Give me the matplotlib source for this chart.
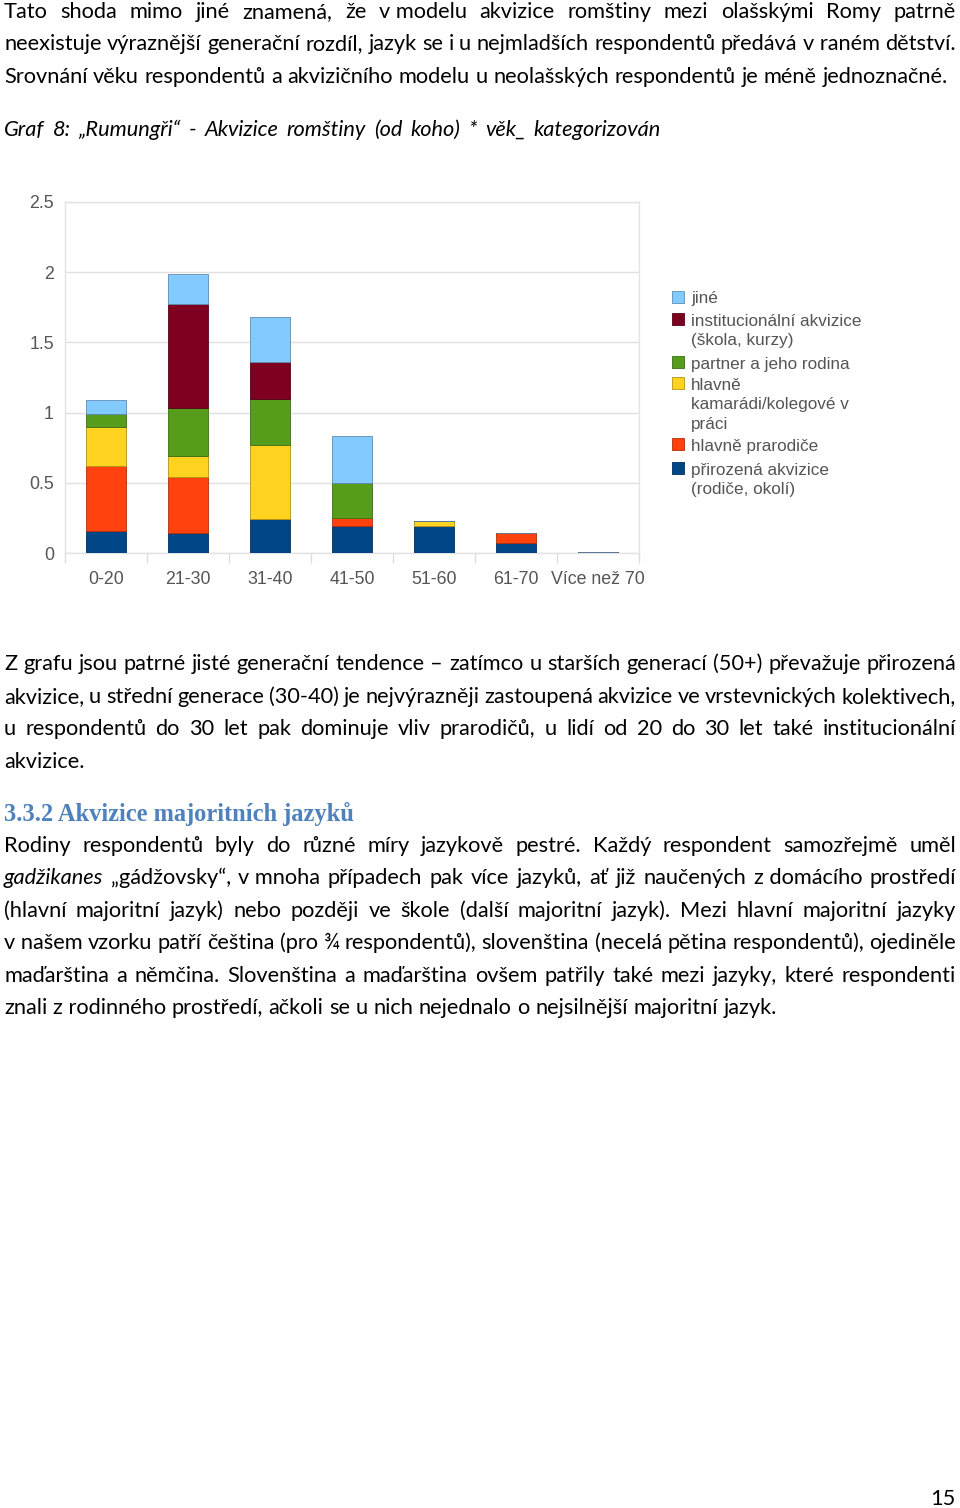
import matplotlib
matplotlib.use('Agg')
import matplotlib.pyplot as plt
from matplotlib.patches import Rectangle
import matplotlib.colors as mcolors
import numpy as np

# ---------------- data ----------------
categories = ['0-20', '21-30', '31-40', '41-50', '51-60', '61-70', 'Více než 70']
prirozena   = [0.16, 0.14, 0.24, 0.19, 0.19, 0.07, 0.01]
prarodice   = [0.46, 0.40, 0.00, 0.06, 0.00, 0.07, 0.00]
kamaradi    = [0.28, 0.15, 0.53, 0.00, 0.04, 0.00, 0.00]
partner     = [0.09, 0.34, 0.33, 0.25, 0.00, 0.00, 0.00]
instituce   = [0.00, 0.74, 0.26, 0.00, 0.00, 0.00, 0.00]
jine        = [0.10, 0.22, 0.32, 0.33, 0.00, 0.00, 0.00]

series = [prirozena, prarodice, kamaradi, partner, instituce, jine]
series_labels = ['přirozená akvizice\n(rodiče, okolí)', 'hlavně prarodiče',
                 'hlavně\nkamarádi/kolegové v\npráci', 'partner a jeho rodina',
                 'institucionální akvizice\n(škola, kurzy)', 'jiné']
colors = ['#004586', '#FF420E', '#FFD320', '#579D1C', '#7E0021', '#83CAFF']
yticks = [0, 0.5, 1, 1.5, 2, 2.5]
ytick_labels = ['0', '0.5', '1', '1.5', '2', '2.5']

W, H = 960, 1508
fig = plt.figure(figsize=(W / 100, H / 100), dpi=100)
fig.patch.set_facecolor('white')
r = fig.canvas.get_renderer()

BODY = 'Lato'


def tw(s, **kw):
    t = fig.text(0, 0, s, **kw)
    w = t.get_window_extent(r).width
    t.remove()
    return w


ref_line = 'neexistuje výraznější generační rozdíl, jazyk se i u nejmladších respondentů předává v raném dětství.'
fs = 10 * 952 / tw(ref_line, family=BODY, fontsize=10)


def ws(s, **style):
    return [(w.replace('~', ' '), style) for w in s.split()]


def line(words, y, justify=True, x0=4, x1=956, size=None, color='black'):
    size = size or fs
    widths = [tw(w, family=BODY, fontsize=size, **st) for w, st in words]
    if justify and len(words) > 1:
        gap = (x1 - x0 - sum(widths)) / (len(words) - 1)
    else:
        gap = tw('a a', family=BODY, fontsize=size) - tw('aa', family=BODY, fontsize=size)
    x = x0
    for (w, st), wd in zip(words, widths):
        fig.text(x / W, 1 - y / H, w, family=BODY, fontsize=size, va='baseline',
                 ha='left', color=color, **st)
        x += wd + gap


# paragraph 1
line(ws('Tato shoda mimo jiné znamená, že v~modelu akvizice romštiny mezi olašskými Romy patrně'), 18)
line(ws('neexistuje výraznější generační rozdíl, jazyk se i u nejmladších respondentů předává v~raném dětství.'), 50.5)
line(ws('Srovnání věku respondentů a akvizičního modelu u neolašských respondentů je méně jednoznačné.'), 83, justify=False)
# caption
line(ws('Graf 8: „Rumungři“ - Akvizice romštiny (od koho) * věk_ kategorizován', style='italic'), 136, x1=661)

# paragraph 2
line(ws('Z grafu jsou patrné jisté generační tendence – zatímco u starších generací (50+) převažuje přirozená'), 670)
line(ws('akvizice, u střední generace (30-40) je nejvýrazněji zastoupená akvizice ve vrstevnických kolektivech,'), 703)
line(ws('u respondentů do 30 let pak dominuje vliv prarodičů, u lidí od 20 do 30 let také institucionální'), 735)
line(ws('akvizice.'), 768, justify=False)

# heading
head = '3.3.2 Akvizice majoritních jazyků'
hs = 10 * 352 / tw(head, family='Liberation Serif', fontsize=10, weight='bold')
fig.text(4 / W, 1 - 821 / H, head, family='Liberation Serif', weight='bold',
         fontsize=hs, color='#4F81BD', va='baseline', ha='left')

# paragraph 3
line(ws('Rodiny respondentů byly do různé míry jazykově pestré. Každý respondent samozřejmě uměl'), 852)
line(ws('gadžikanes', style='italic') + ws('„gádžovsky“, v~mnoha případech pak více jazyků, ať již naučených z~domácího prostředí'), 884)
line(ws('(hlavní majoritní jazyk) nebo později ve škole (další majoritní jazyk). Mezi hlavní majoritní jazyky'), 917)
line(ws('v~našem vzorku patří čeština (pro ¾ respondentů), slovenština (necelá pětina respondentů), ojediněle'), 949)
line(ws('maďarština a němčina. Slovenština a maďarština ovšem patřily také mezi jazyky, které respondenti'), 982)
line(ws('znali z~rodinného prostředí, ačkoli se u nich nejednalo o nejsilnější majoritní jazyk.'), 1014, justify=False)

# page number
fig.text(956 / W, 1 - 1505 / H, '15', family=BODY, fontsize=fs, ha='right', va='baseline')

# ---------------- chart ----------------
L, R, T, B = 65, 639, 202, 553
ax = fig.add_axes([L / W, 1 - B / H, (R - L) / W, (B - T) / H])
x = np.arange(len(categories))
bottom = np.zeros(len(categories))
for vals, c in zip(series, colors):
    vals = np.array(vals)
    edge = tuple(np.array(mcolors.to_rgb(c)) * 0.7)
    ax.bar(x, vals, width=0.49, bottom=bottom, color=c, edgecolor=edge, linewidth=0.6, zorder=3)
    bottom += vals

ax.set_xlim(-0.5, len(categories) - 0.5)
ax.set_ylim(0, 2.5)
ax.set_yticks(yticks)
ax.set_yticklabels(ytick_labels)
ax.set_xticks(x)
ax.set_xticklabels(categories)
ax.set_xticks(np.arange(-0.5, len(categories), 1), minor=True)
ax.tick_params(axis='x', which='major', length=0, pad=13, labelsize=12.8, labelcolor='#555555')
ax.tick_params(axis='x', which='minor', length=7, color='#dddddd', width=1)
ax.tick_params(axis='y', length=0, pad=8, labelsize=12.8, labelcolor='#555555')
for lab in ax.get_xticklabels() + ax.get_yticklabels():
    lab.set_family('Liberation Sans')
ax.grid(axis='y', color='#e0e0e0', linewidth=1, zorder=0)
for s in ax.spines.values():
    s.set_color('#e3e3e3')
    s.set_linewidth(1)
ax.set_facecolor('white')

# legend (drawn manually to match layout)
leg_entries = list(zip(series_labels, colors))[::-1]
first_y = [298, 320, 363, 384, 445, 469]
for (lab, c), y0 in zip(leg_entries, first_y):
    edge = tuple(np.array(mcolors.to_rgb(c)) * 0.7)
    fig.patches.append(Rectangle(((672) / W, 1 - (y0 + 5) / H), 12 / W, 12 / H,
                                 transform=fig.transFigure, facecolor=c, edgecolor=edge,
                                 linewidth=0.6))
    for i, sub in enumerate(lab.split('\n')):
        fig.text(691 / W, 1 - (y0 + 1 + i * 19.5) / H, sub, family='Liberation Sans',
                 fontsize=12.3, color='#555555', va='center', ha='left')

fig.savefig('out.png', dpi=100, facecolor='white')
